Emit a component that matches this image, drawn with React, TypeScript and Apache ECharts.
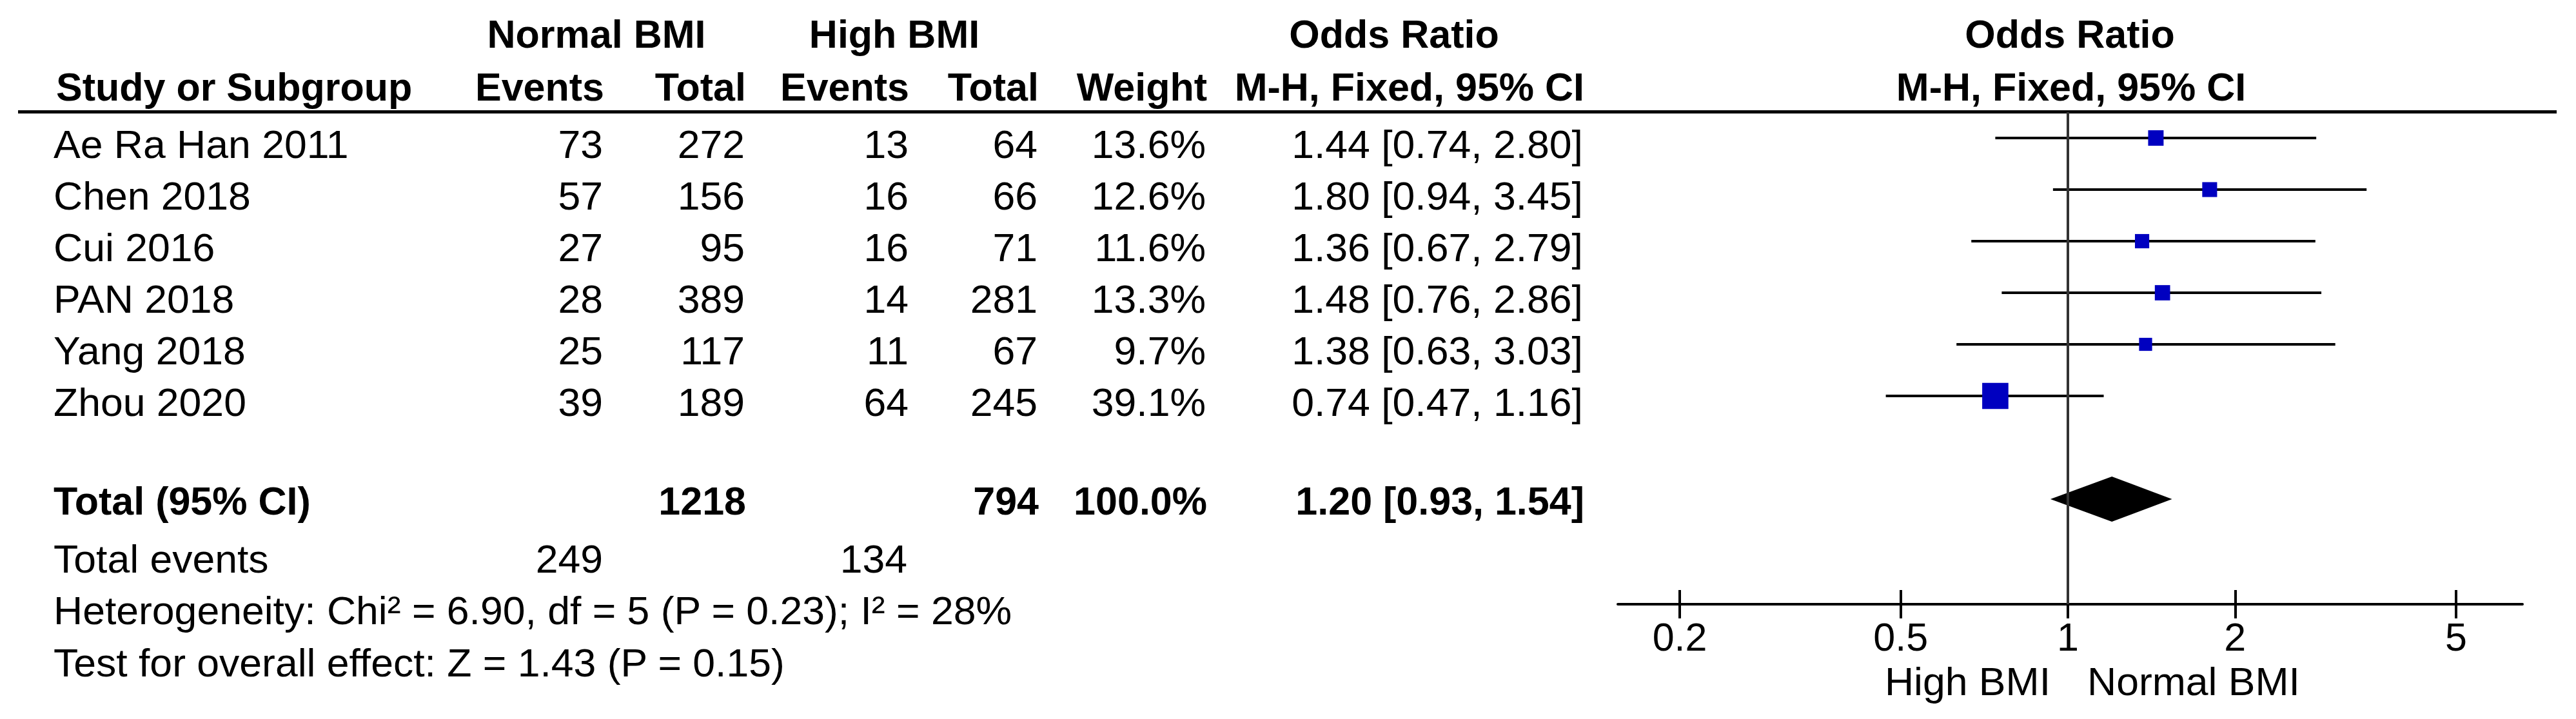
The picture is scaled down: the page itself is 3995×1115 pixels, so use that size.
import React, { useEffect, useRef } from 'react';
import * as echarts from 'echarts';

// ---------- data ----------
const studies = ['Ae Ra Han 2011', 'Chen 2018', 'Cui 2016', 'PAN 2018', 'Yang 2018', 'Zhou 2020'];
const normalEvents = [73, 57, 27, 28, 25, 39];
const normalTotal = [272, 156, 95, 389, 117, 189];
const highEvents = [13, 16, 16, 14, 11, 64];
const highTotal = [64, 66, 71, 281, 67, 245];
const weights = [13.6, 12.6, 11.6, 13.3, 9.7, 39.1];
const oddsRatio = [1.44, 1.8, 1.36, 1.48, 1.38, 0.74];
const ciLow = [0.74, 0.94, 0.67, 0.76, 0.63, 0.47];
const ciHigh = [2.8, 3.45, 2.79, 2.86, 3.03, 1.16];

const totalLabel = 'Total (95% CI)';
const totalNormal = 1218;
const totalHigh = 794;
const totalWeight = 100.0;
const totalOR = 1.2;
const totalLow = 0.93;
const totalHigh95 = 1.54;
const totalEventsNormal = 249;
const totalEventsHigh = 134;
const heterogeneityText = 'Heterogeneity: Chi\u00B2 = 6.90, df = 5 (P = 0.23); I\u00B2 = 28%';
const overallText = 'Test for overall effect: Z = 1.43 (P = 0.15)';

const tickValues = [0.2, 0.5, 1, 2, 5];
const axisMinOR = 0.1547;
const axisMaxOR = 6.585;
const favoursLeft = 'High BMI';
const favoursRight = 'Normal BMI';

// ---------- layout / style ----------
const FONT = "'Liberation Sans', Arial, Helvetica, sans-serif";
const FS = 61;
const ROW0_TEXT_Y = 224;
const ROW_STEP = 80;
const TOTAL_ROW_INDEX = 7;
const NORMAL_SCALE_X = 1.025;

const f2 = (v: number) => v.toFixed(2);
const ciText = (o: number, l: number, h: number) => `${f2(o)} [${f2(l)}, ${f2(h)}]`;

export default function App() {
  const ref = useRef<HTMLDivElement>(null);

  useEffect(() => {
    if (!ref.current) return;
    const chart = echarts.init(ref.current, null, { renderer: 'svg' });
    const L = Math.log10;

    const graphics: any[] = [];
    const txt = (text: string, x: number, y: number, align: string, bold = false) => {
      graphics.push({
        type: 'text',
        silent: true,
        x,
        y,
        scaleX: bold ? 1 : NORMAL_SCALE_X,
        style: {
          text,
          x: 0,
          y: 0,
          textAlign: align,
          textVerticalAlign: 'middle',
          verticalAlign: 'middle',
          font: `${bold ? 'bold ' : ''}${FS}px ${FONT}`,
          fill: '#000',
        },
      });
    };

    // headers
    const H1 = 52.5;
    const H2 = 135;
    txt('Normal BMI', 925, H1, 'center', true);
    txt('High BMI', 1387, H1, 'center', true);
    txt('Odds Ratio', 2162, H1, 'center', true);
    txt('Odds Ratio', 3210, H1, 'center', true);
    txt('Study or Subgroup', 87, H2, 'left', true);
    txt('Events', 937, H2, 'right', true);
    txt('Total', 1157, H2, 'right', true);
    txt('Events', 1410, H2, 'right', true);
    txt('Total', 1611, H2, 'right', true);
    txt('Weight', 1872, H2, 'right', true);
    txt('M-H, Fixed, 95% CI', 2457, H2, 'right', true);
    txt('M-H, Fixed, 95% CI', 3212, H2, 'center', true);

    // study rows
    studies.forEach((s, i) => {
      const y = ROW0_TEXT_Y + ROW_STEP * i;
      txt(s, 83, y, 'left');
      txt(String(normalEvents[i]), 935, y, 'right');
      txt(String(normalTotal[i]), 1155, y, 'right');
      txt(String(highEvents[i]), 1409, y, 'right');
      txt(String(highTotal[i]), 1609, y, 'right');
      txt(weights[i].toFixed(1) + '%', 1870, y, 'right');
      txt(ciText(oddsRatio[i], ciLow[i], ciHigh[i]), 2455, y, 'right');
    });

    // totals
    const TY = 777;
    txt(totalLabel, 83, TY, 'left', true);
    txt(String(totalNormal), 1157, TY, 'right', true);
    txt(String(totalHigh), 1611, TY, 'right', true);
    txt(totalWeight.toFixed(1) + '%', 1872, TY, 'right', true);
    txt(ciText(totalOR, totalLow, totalHigh95), 2457, TY, 'right', true);

    txt('Total events', 83, 867, 'left');
    txt(String(totalEventsNormal), 935, 867, 'right');
    txt(String(totalEventsHigh), 1407, 867, 'right');
    txt(heterogeneityText, 83, 947, 'left');
    txt(overallText, 83, 1028, 'left');

    // favours labels
    txt(favoursLeft, 3180, 1057, 'right');
    txt(favoursRight, 3237, 1057, 'left');

    // header underline
    graphics.push({
      type: 'line',
      silent: true,
      shape: { x1: 28, y1: 173.5, x2: 3965, y2: 173.5 },
      style: { stroke: '#000', lineWidth: 5 },
    });

    const tickLogs = tickValues.map((t) => L(t));
    const labelFormatter = (v: number) => {
      const t = tickValues.find((tv) => Math.abs(L(tv) - v) < 1e-6);
      return t != null ? String(t) : '';
    };

    const studyData = studies.map((s, i) => [L(oddsRatio[i]), i, L(ciLow[i]), L(ciHigh[i]), weights[i]]);
    const totalData = [[L(totalOR), TOTAL_ROW_INDEX, L(totalLow), L(totalHigh95)]];

    chart.setOption({
      animation: false,
      backgroundColor: '#fff',
      graphic: graphics,
      grid: { left: 2509, right: 83, top: 174, height: 763, containLabel: false },
      xAxis: [
        {
          type: 'value',
          position: 'bottom',
          min: L(axisMinOR),
          max: L(axisMaxOR),
          axisLine: { show: true, onZero: false, lineStyle: { color: '#000', width: 4 } },
          axisTick: { show: true, customValues: tickLogs, length: 22, lineStyle: { color: '#000', width: 4 } },
          axisLabel: {
            show: true,
            customValues: tickLogs,
            formatter: labelFormatter,
            margin: 20,
            fontSize: FS,
            fontFamily: FONT,
            color: '#000',
            lineHeight: FS,
          },
          splitLine: { show: false },
        },
        {
          type: 'value',
          position: 'bottom',
          min: L(axisMinOR),
          max: L(axisMaxOR),
          axisLine: { show: false, onZero: false },
          axisTick: { show: true, inside: true, customValues: tickLogs, length: 22, lineStyle: { color: '#000', width: 4 } },
          axisLabel: { show: false },
          splitLine: { show: false },
        },
      ],
      yAxis: {
        type: 'value',
        inverse: true,
        min: -0.5,
        max: 9.0375,
        show: false,
        axisLine: { onZero: false },
        splitLine: { show: false },
      },
      series: [
        {
          type: 'custom',
          xAxisIndex: 0,
          yAxisIndex: 0,
          clip: false,
          data: studyData,
          encode: { x: 0, y: 1 },
          renderItem: (params: any, api: any) => {
            const y = api.value(1);
            const p0 = api.coord([api.value(2), y]);
            const p1 = api.coord([api.value(3), y]);
            const pc = api.coord([api.value(0), y]);
            const s = 6.5 * Math.sqrt(api.value(4));
            return {
              type: 'group',
              children: [
                {
                  type: 'line',
                  shape: { x1: p0[0], y1: p0[1], x2: p1[0], y2: p1[1] },
                  style: { stroke: '#000', lineWidth: 4 },
                },
                {
                  type: 'rect',
                  shape: { x: pc[0] - s / 2, y: pc[1] - s / 2, width: s, height: s },
                  style: { fill: '#0000C0' },
                },
              ],
            };
          },
          markLine: {
            silent: true,
            symbol: 'none',
            label: { show: false },
            lineStyle: { color: '#333', width: 4, type: 'solid' },
            data: [{ xAxis: 0 }],
          },
          z: 3,
        },
        {
          type: 'custom',
          xAxisIndex: 0,
          yAxisIndex: 0,
          clip: false,
          data: totalData,
          encode: { x: 0, y: 1 },
          renderItem: (params: any, api: any) => {
            const y = api.value(1);
            const pl = api.coord([api.value(2), y]);
            const ph = api.coord([api.value(3), y]);
            const pc = api.coord([api.value(0), y]);
            const h = 35;
            return {
              type: 'polygon',
              shape: {
                points: [
                  [pl[0], pl[1]],
                  [pc[0], pc[1] - h],
                  [ph[0], ph[1]],
                  [pc[0], pc[1] + h],
                ],
              },
              style: { fill: '#000' },
            };
          },
          z: 4,
        },
      ],
    });

    return () => chart.dispose();
  }, []);

  return (
    <div
      ref={ref}
      style={{ position: 'fixed', left: 0, top: 0, width: 3995, height: 1115, background: '#fff' }}
    />
  );
}
